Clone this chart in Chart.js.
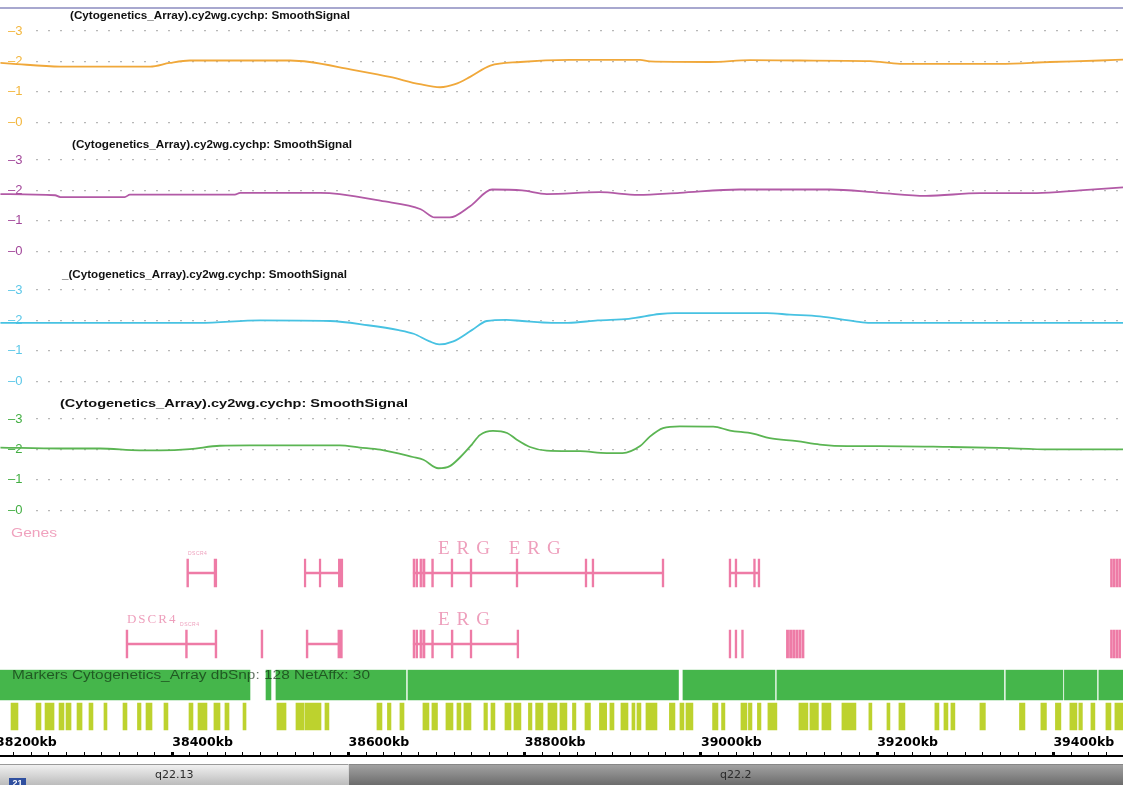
<!DOCTYPE html>
<html>
<head>
<meta charset="utf-8">
<title>Cytogenetics SmoothSignal - chr21 q22</title>
<script src="https://cdn.jsdelivr.net/npm/chart.js@4.4.1/dist/chart.umd.min.js"></script>
<style>
  html, body { margin: 0; padding: 0; background: #fff; overflow: hidden; }
  #view { position: relative; width: 1123px; height: 785px; overflow: hidden; }
  #view canvas { position: absolute; }
  #topline { position: absolute; left: 0; top: 7px; width: 1123px; height: 2px; background: #a8a8cf; }
</style>
</head>
<body>
<div id="view">
  <div id="topline"></div>
  <canvas id="track0" width="1123" height="130" style="left:0;top:8px"></canvas>
  <canvas id="track1" width="1123" height="130" style="left:0;top:137px"></canvas>
  <canvas id="track2" width="1123" height="130" style="left:0;top:267px"></canvas>
  <canvas id="track3" width="1123" height="130" style="left:0;top:396px"></canvas>
  <canvas id="genes" width="1123" height="152" style="left:0;top:528px"></canvas>
  <canvas id="markers" width="1123" height="72" style="left:0;top:662px"></canvas>
  <canvas id="axis" width="1135" height="30" style="left:-12px;top:734px"></canvas>
  <canvas id="ideogram" width="1123" height="21" style="left:0;top:764px"></canvas>
</div>
<script>
"use strict";

// visible window on chr21, in kb
const KB_MIN = 38204.5;
const KB_MAX = 39479;

// SmoothSignal tracks: [kb, copy number]
const signalTicks = [0, 1, 2, 3];
const smoothOrange = [
  [38205, 1.95], [38216, 1.93], [38273, 1.83], [38375, 1.83], [38397, 1.95], [38420, 2.03],
  [38534, 2.03], [38556, 1.98], [38602, 1.74], [38647, 1.49], [38681, 1.25], [38704, 1.15],
  [38721, 1.25], [38738, 1.49], [38761, 1.86], [38795, 1.98], [38851, 2.05], [38931, 2.05],
  [38942, 2.00], [39010, 1.98], [39056, 2.04], [39112, 2.03], [39192, 2.01], [39226, 1.92],
  [39339, 1.92], [39396, 1.98], [39453, 2.03], [39479, 2.06]
];
const smoothPurple = [
  [38205, 1.88], [38267, 1.84], [38273, 1.78], [38346, 1.78], [38352, 1.86], [38471, 1.86],
  [38477, 1.92], [38568, 1.92], [38590, 1.88], [38636, 1.66], [38682, 1.38], [38698, 1.11],
  [38715, 1.11], [38738, 1.48], [38763, 2.03], [38797, 2.00], [38825, 1.88], [38885, 1.94],
  [38929, 1.85], [38976, 1.92], [39044, 2.03], [39146, 2.03], [39203, 1.92], [39255, 1.82],
  [39317, 1.91], [39381, 1.91], [39430, 2.00], [39479, 2.10]
];
const smoothCyan = [
  [38205, 1.92], [38431, 1.92], [38500, 2.00], [38579, 1.98], [38622, 1.84], [38657, 1.68],
  [38674, 1.56], [38692, 1.31], [38703, 1.21], [38719, 1.31], [38740, 1.68], [38757, 1.98],
  [38779, 2.02], [38797, 1.98], [38831, 1.92], [38849, 1.92], [38883, 2.00], [38918, 2.05],
  [38953, 2.21], [38970, 2.24], [39075, 2.24], [39101, 2.19], [39135, 2.13], [39175, 1.97],
  [39192, 1.92], [39479, 1.92]
];
const smoothGreen = [
  [38205, 2.06], [38273, 2.03], [38318, 2.03], [38363, 1.97], [38386, 1.97], [38420, 2.01],
  [38454, 2.12], [38488, 2.13], [38590, 2.13], [38613, 2.06], [38636, 1.99], [38673, 1.75],
  [38685, 1.66], [38702, 1.38], [38715, 1.45], [38727, 1.75], [38740, 2.16], [38749, 2.47],
  [38764, 2.61], [38780, 2.54], [38791, 2.32], [38806, 2.08], [38825, 1.96], [38863, 1.94],
  [38893, 1.88], [38911, 1.88], [38931, 2.11], [38942, 2.42], [38957, 2.70], [38976, 2.76],
  [39014, 2.75], [39033, 2.62], [39059, 2.52], [39078, 2.37], [39109, 2.27], [39135, 2.16],
  [39166, 2.11], [39203, 2.11], [39283, 2.08], [39339, 2.05], [39396, 2.00], [39479, 2.00]
];
const trackTitles = [
  '(Cytogenetics_Array).cy2wg.cychp: SmoothSignal',
  '(Cytogenetics_Array).cy2wg.cychp: SmoothSignal',
  '_(Cytogenetics_Array).cy2wg.cychp: SmoothSignal',
  '(Cytogenetics_Array).cy2wg.cychp: SmoothSignal'
];

// gene models: intron spans and exons as [startKb, endKb, row]
const geneRows = ['upper', 'lower'];
const geneSpans = [
  [38417.3, 38449.5, 0], [38550.6, 38592, 0], [38673.5, 38957, 0], [39033, 39066, 0],
  [38348.6, 38449.6, 1], [38553, 38591, 1], [38673.5, 38792, 1]
];
const geneExons = [
  [38416.5, 38418.5, 0], [38447.5, 38450.5, 0],
  [38549.8, 38551.6, 0], [38566.8, 38568.6, 0], [38588.5, 38593.5, 0],
  [38673.3, 38675.4, 0], [38676.6, 38678.5, 0], [38681.1, 38683.0, 0], [38684.2, 38686.8, 0],
  [38694.4, 38696.4, 0], [38716.5, 38718.4, 0], [38738.1, 38740.0, 0], [38790.3, 38792.2, 0],
  [38868.6, 38870.5, 0], [38876.5, 38878.4, 0], [38956.0, 38957.9, 0],
  [39032.0, 39033.9, 0], [39038.8, 39040.7, 0], [39059.8, 39061.7, 0], [39064.9, 39066.8, 0],
  [39464.8, 39467.0, 0], [39467.9, 39470.1, 0], [39471.0, 39473.2, 0], [39474.1, 39476.3, 0],
  [38347.6, 38349.6, 1], [38415.1, 38417.1, 1], [38448.6, 38450.6, 1],
  [38500.8, 38502.8, 1],
  [38552.0, 38554.0, 1], [38588.0, 38593.0, 1],
  [38673.3, 38675.4, 1], [38676.6, 38678.5, 1], [38681.1, 38683.0, 1], [38684.2, 38686.8, 1],
  [38694.4, 38696.4, 1], [38716.6, 38718.6, 1], [38738.1, 38740.0, 1], [38791.3, 38793.2, 1],
  [39032.0, 39033.9, 1], [39038.8, 39040.7, 1], [39046.2, 39048.1, 1],
  [39097.0, 39099.5, 1], [39100.5, 39103.0, 1], [39104.0, 39106.5, 1], [39107.5, 39110.0, 1],
  [39111.0, 39113.5, 1], [39114.5, 39117.0, 1],
  [39464.8, 39467.0, 1], [39467.9, 39470.1, 1], [39471.0, 39473.2, 1], [39474.1, 39476.3, 1]
];
const geneNames = ['ERG ERG', 'ERG', 'DSCR4', 'DSCR4', 'DSCR4'];
const geneNameKb = [38701.5, 38701.5, 38348.6, 38408.8, 38417.8];
const geneNameRow = [0, 1, 1, 1, 0];
const geneNameKind = ['large', 'large', 'medium', 'tiny', 'tiny'];

// markers: copy number segments and dbSnp probe clusters, [startKb, endKb]
const markerRows = ['segments', 'probes'];
const cnSegments = [
  [38200, 38488.2], [38506.4, 38512.0], [38517.7, 38665.2], [38667.5, 38974.5],
  [38979.6, 39084.0], [39086.2, 39343.8], [39346.1, 39410.8], [39412.5, 39449.4],
  [39451.6, 39479]
];
const snpBars = [
  [38217.0, 38224.9], [38245.4, 38251.0], [38255.6, 38265.8], [38271.5, 38277.1],
  [38279.4, 38285.1], [38291.9, 38297.6], [38305.5, 38310.0], [38322.5, 38325.9],
  [38344.1, 38348.6], [38360.5, 38364.5], [38370.2, 38377.0], [38390.6, 38395.1],
  [38419.0, 38423.5], [38429.2, 38439.4], [38447.3, 38454.2], [38459.8, 38464.4],
  [38480.3, 38483.7], [38518.8, 38529.1], [38540.4, 38549.5], [38550.6, 38568.8],
  [38573.3, 38577.8], [38632.3, 38638.0], [38644.2, 38648.2], [38658.4, 38663.0],
  [38684.5, 38691.3], [38694.7, 38701.0], [38710.6, 38718.6], [38723.1, 38727.6],
  [38731.0, 38739.0], [38753.7, 38757.7], [38761.7, 38766.2], [38777.6, 38784.4],
  [38787.8, 38795.7], [38804.2, 38808.2], [38812.4, 38820.7], [38826.4, 38836.6],
  [38840.0, 38847.9], [38854.2, 38858.1], [38868.4, 38874.6], [38884.8, 38893.0],
  [38896.7, 38901.3], [38909.2, 38917.2], [38921.7, 38925.1], [38927.4, 38931.9],
  [38937.6, 38950.1], [38964.2, 38970.5], [38976.2, 38980.7], [38983.0, 38990.9],
  [39013.2, 39019.3], [39023.4, 39027.2], [39045.4, 39052.2], [39053.9, 39057.9],
  [39064.1, 39068.1], [39076.0, 39086.2], [39111.2, 39121.4], [39123.7, 39133.3],
  [39137.3, 39147.5], [39160.0, 39175.9], [39190.6, 39194.0], [39211.1, 39214.5],
  [39224.7, 39231.5], [39265.5, 39270.1], [39275.8, 39280.3], [39283.7, 39288.2],
  [39316.6, 39322.8], [39361.5, 39367.7], [39385.8, 39392.1], [39402.3, 39408.5],
  [39418.7, 39426.7], [39428.9, 39432.9], [39442.6, 39447.1], [39459.6, 39465.3],
  [39469.8, 39479]
];
const markerTitle = 'Markers Cytogenetics_Array dbSnp: 128 NetAffx: 30';

// cytobands
const bandNames = ['q22.13', 'q22.2'];
const bandStartKb = [37500, 38600];
const bandEndKb = [38600, 41200];
const chromosome = '21';

// ---- styling ----
const SANS = '"Liberation Sans", Arial, sans-serif';
const PINK = '#ee7ba6';
const kbPerPx = (KB_MAX - KB_MIN) / 1123;
const trackStyle = [
  { line: '#f0a83a', label: '#f3b63c', titleLeft: 70, titleWidth: 280 },
  { line: '#b25aa6', label: '#a2479a', titleLeft: 72, titleWidth: 280 },
  { line: '#47c2e2', label: '#5bc7e8', titleLeft: 62, titleWidth: 285 },
  { line: '#5bb553', label: '#42ae42', titleLeft: 60, titleWidth: 348 }
];
const nameStyle = {
  large: { font: '19px "Liberation Serif", serif', spacing: '7px', dy: -24 },
  medium: { font: '13px "Liberation Serif", serif', spacing: '2px', dy: -24 },
  tiny: { font: '5px "Liberation Sans", sans-serif', spacing: '0.5px', dy: -19 }
};
const bandFill = [['#f3f3f3', '#dadada', '#bcbcbc'], ['#a4a4a4', '#8b8b8b', '#6c6c6c']];

Chart.defaults.font.family = SANS;
Chart.defaults.animation = false;
Chart.defaults.responsive = false;
Chart.defaults.events = [];
Chart.defaults.plugins.legend.display = false;
Chart.defaults.plugins.tooltip.enabled = false;

// draw text squeezed/stretched to a given run width
function fitText(ctx, text, x, y, width) {
  const w = ctx.measureText(text).width;
  ctx.save();
  ctx.translate(x, y);
  ctx.scale(width / w, 1);
  ctx.fillText(text, 0, 0);
  ctx.restore();
}

const trackTitle = {
  id: 'trackTitle',
  afterDraw(chart, args, opts) {
    const { ctx, chartArea } = chart;
    ctx.save();
    ctx.font = 'bold 11.5px ' + SANS;
    ctx.fillStyle = '#111';
    ctx.textBaseline = 'middle';
    fitText(ctx, opts.text, opts.left, chartArea.top - 15, opts.width);
    ctx.restore();
  }
};

function signalTrack(i, points) {
  const st = trackStyle[i];
  return new Chart(document.getElementById('track' + i), {
    type: 'line',
    data: {
      datasets: [{
        data: points.map(([kb, v]) => ({ x: kb, y: v })),
        borderColor: st.line,
        borderWidth: 1.8,
        pointRadius: 0,
        tension: 0.3,
        cubicInterpolationMode: 'monotone',
        clip: false
      }]
    },
    options: {
      layout: { padding: { top: 23, bottom: 9.5, left: 0, right: 0 } },
      plugins: { trackTitle: { text: trackTitles[i], left: st.titleLeft, width: st.titleWidth } },
      scales: {
        x: { type: 'linear', display: false, min: KB_MIN, max: KB_MAX },
        y: {
          min: 0, max: 3,
          // labels sit inside the plot, so the axis takes no room
          afterFit: s => { s.width = 0; },
          afterBuildTicks: s => { s.ticks = signalTicks.map(v => ({ value: v })); },
          border: { display: false, dash: [2, 10] },
          grid: { color: '#b7b7b7', lineWidth: 1.3, drawTicks: false },
          ticks: {
            mirror: true, padding: 8, color: st.label,
            font: { size: 13 },
            callback: v => '\u2013' + v,
            showLabelBackdrop: true, backdropColor: '#fff',
            backdropPadding: { top: 0, bottom: 0, left: 9, right: 7 }
          }
        }
      }
    },
    plugins: [trackTitle]
  });
}

[smoothOrange, smoothPurple, smoothCyan, smoothGreen].forEach((pts, i) => signalTrack(i, pts));

// ---- genes ----
const geneLabels = {
  id: 'geneLabels',
  afterDatasetsDraw(chart) {
    const { ctx, chartArea, scales: { x, y } } = chart;
    ctx.save();
    ctx.textBaseline = 'middle';
    ctx.fillStyle = '#ee9fbc';
    geneNames.forEach((name, i) => {
      const st = nameStyle[geneNameKind[i]];
      ctx.font = st.font;
      ctx.letterSpacing = st.spacing;
      ctx.fillText(name, x.getPixelForValue(geneNameKb[i]), y.getPixelForValue(geneNameRow[i]) + st.dy);
    });
    ctx.letterSpacing = '0px';
    ctx.font = '12px ' + SANS;
    ctx.fillStyle = '#f0a2be';
    fitText(ctx, 'Genes', chartArea.left + 11, chartArea.top - 4, 46);
    ctx.restore();
  }
};

new Chart(document.getElementById('genes'), {
  type: 'bar',
  data: {
    labels: geneRows,
    datasets: [
      {
        data: geneSpans.map(([s, e, r]) => ({ x: [s, e], y: geneRows[r] })),
        backgroundColor: PINK, barThickness: 1.6, grouped: false
      },
      {
        data: geneExons.map(([s, e, r]) => ({ x: [s, e], y: geneRows[r] })),
        backgroundColor: PINK, barThickness: 28, grouped: false
      }
    ]
  },
  options: {
    indexAxis: 'y',
    layout: { padding: { top: 9.5, bottom: 0.5, left: 0, right: 0 } },
    scales: {
      x: { type: 'linear', display: false, min: KB_MIN, max: KB_MAX },
      y: { type: 'category', display: false }
    }
  },
  plugins: [geneLabels]
});

// ---- markers ----
const markerLabel = {
  id: 'markerLabel',
  afterDatasetsDraw(chart) {
    const { ctx, chartArea, scales: { y } } = chart;
    ctx.save();
    ctx.font = '12px ' + SANS;
    ctx.fillStyle = 'rgba(10, 30, 10, 0.62)';
    ctx.textBaseline = 'middle';
    fitText(ctx, markerTitle, chartArea.left + 12, y.getPixelForValue(0) - 9, 358);
    ctx.restore();
  }
};

new Chart(document.getElementById('markers'), {
  type: 'bar',
  data: {
    labels: markerRows,
    datasets: [
      {
        data: cnSegments.map(([s, e]) => ({ x: [s, e], y: markerRows[0] })),
        backgroundColor: '#45b64b', barThickness: 30, grouped: false
      },
      {
        data: snpBars.map(([s, e]) => ({ x: [s, e], y: markerRows[1] })),
        backgroundColor: '#bdd22e', barThickness: 27, grouped: false
      }
    ]
  },
  options: {
    indexAxis: 'y',
    layout: { padding: { top: 7.25, bottom: 1.75, left: 0, right: 0 } },
    scales: {
      x: { type: 'linear', display: false, min: KB_MIN, max: KB_MAX },
      y: { type: 'category', display: false }
    }
  },
  plugins: [markerLabel]
});

// ---- coordinate ruler ----
new Chart(document.getElementById('axis'), {
  type: 'scatter',
  data: { datasets: [] },
  options: {
    layout: { padding: 0 },
    scales: {
      x: {
        type: 'linear', position: 'top',
        min: KB_MIN - 12 * kbPerPx, max: KB_MAX,
        afterFit: s => { s.height = 22; },
        border: { display: true, color: '#000', width: 2 },
        grid: {
          drawOnChartArea: false, tickLength: 4, tickColor: '#000',
          tickWidth: c => (c.tick && c.tick.value % 200 === 0 ? 3 : 1)
        },
        ticks: {
          stepSize: 20, includeBounds: false, autoSkip: false, maxRotation: 0,
          align: 'start', padding: 2, color: '#000',
          font: { family: '"DejaVu Sans", sans-serif', weight: 'bold', size: 12.5 },
          callback: v => (v % 200 === 0 ? v + 'kb' : '')
        }
      },
      y: { display: false }
    }
  }
});

// ---- cytoband ideogram ----
const bandLabels = {
  id: 'bandLabels',
  afterDatasetsDraw(chart) {
    const { ctx, chartArea, scales: { x, y } } = chart;
    ctx.save();
    ctx.font = '11px "DejaVu Sans", sans-serif';
    ctx.fillStyle = '#2b2b2b';
    ctx.textAlign = 'center';
    ctx.textBaseline = 'middle';
    bandNames.forEach((name, i) => {
      const a = Math.max(x.getPixelForValue(bandStartKb[i]), chartArea.left);
      const b = Math.min(x.getPixelForValue(bandEndKb[i]), chartArea.right);
      ctx.fillText(name, (a + b) / 2, y.getPixelForValue(0) + 1);
    });
    // chromosome tag, partly cut at the bottom edge
    ctx.fillStyle = '#2f4f9f';
    ctx.fillRect(chartArea.left + 9, chartArea.bottom - 7, 17, 9);
    ctx.fillStyle = '#fff';
    ctx.font = 'bold 9px ' + SANS;
    ctx.textBaseline = 'top';
    ctx.fillText(chromosome, chartArea.left + 17.5, chartArea.bottom - 6);
    ctx.restore();
  }
};

new Chart(document.getElementById('ideogram'), {
  type: 'bar',
  data: {
    labels: ['chr21'],
    datasets: bandNames.map((name, i) => ({
      label: name,
      data: [{ x: [bandStartKb[i], bandEndKb[i]], y: 'chr21' }],
      grouped: false,
      barPercentage: 1, categoryPercentage: 1,
      borderSkipped: false,
      borderWidth: { top: 1, bottom: 0, left: 0, right: 0 },
      borderColor: '#7d7d7d',
      backgroundColor: c => {
        const { ctx, chartArea } = c.chart;
        const [hi, mid, lo] = bandFill[i];
        if (!chartArea) return mid;
        const g = ctx.createLinearGradient(0, chartArea.top, 0, chartArea.bottom);
        g.addColorStop(0, hi);
        g.addColorStop(0.45, mid);
        g.addColorStop(1, lo);
        return g;
      }
    }))
  },
  options: {
    indexAxis: 'y',
    layout: { padding: 0 },
    scales: {
      x: { type: 'linear', display: false, min: KB_MIN, max: KB_MAX },
      y: { type: 'category', display: false }
    }
  },
  plugins: [bandLabels]
});
</script>
</body>
</html>
